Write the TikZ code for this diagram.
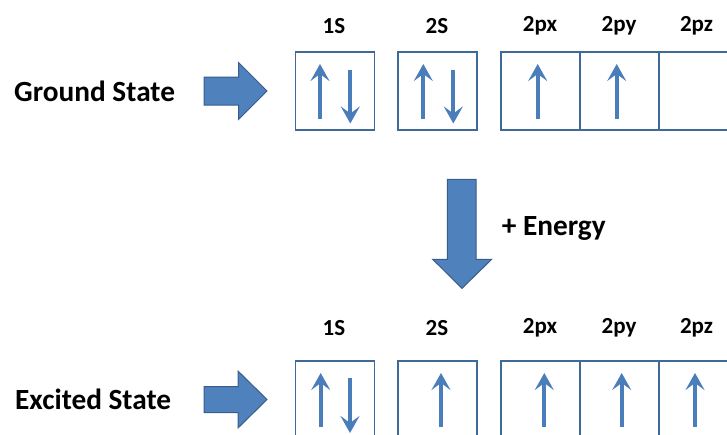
\documentclass[tikz,border=0pt]{standalone}
\usepackage{fontspec}
\setmainfont{Carlito}
\usetikzlibrary{arrows.meta}
\definecolor{elblue}{HTML}{4A7EBB}
\definecolor{boxline}{HTML}{3D6A98}
\definecolor{bafill}{HTML}{4F81BD}
\definecolor{baline}{HTML}{385D8A}
\tikzset{
  orb/.style={draw=boxline, line width=1.6pt, fill=white, minimum width=78.8pt, minimum height=78.3pt, inner sep=0pt},
  lbl/.style={font=\bfseries\fontsize{23}{25}\selectfont, inner sep=0pt},
  big/.style={font=\bfseries\fontsize{29.3}{31}\selectfont, inner sep=0pt},
  spin/.style={draw=elblue, line width=4pt, -{Stealth[length=17pt, width=19pt, inset=7pt]}},
  blockarrow/.style={fill=bafill, draw=baline, line width=1pt, line join=miter}
}
\begin{document}
\begin{tikzpicture}[x=1pt, y=-1pt]
\useasboundingbox (0,0) rectangle (727,434);
\clip (0,0) rectangle (727,434);
% ---------- Ground state ----------
\node[big, anchor=west] (gs) at (14,91) {Ground State};
\draw[blockarrow] (204,77) -- (238.5,77) -- (238.5,62.5) -- (267,91) -- (238.5,119.5) -- (238.5,105) -- (204,105) -- cycle;
\node[orb] (g1) at (335,90.85) {};
\node[orb] (g2) at (437.65,90.85) {};
\node[orb] (g3) at (540.65,90.85) {};
\node[orb] (g4) at (619.5,90.85) {};
\node[orb] (g5) at (698.35,90.85) {};
\node[lbl] (lg1) at (334,26) {1S};
\node[lbl] (lg2) at (437,26) {2S};
\node[lbl] (lg3) at (540,26) {2px};
\node[lbl] (lg4) at (619,26) {2py};
\node[lbl] (lg5) at (696.5,26) {2pz};
\draw[spin] (320,119) -- (320,64);
\draw[spin] (350.3,70) -- (350.3,123.5);
\draw[spin] (423.3,119) -- (423.3,64);
\draw[spin] (453.3,70) -- (453.3,123.5);
\draw[spin] (537.7,119) -- (537.7,64);
\draw[spin] (616.7,119) -- (616.7,64);
% ---------- Energy arrow ----------
\draw[blockarrow] (447.3,179.3) -- (476,179.3) -- (476,259.3) -- (491.7,259.3) -- (462,288.3) -- (432.7,259.3) -- (447.3,259.3) -- cycle;
\node[big, anchor=west] (en) at (501.7,228) {+ Energy};
% ---------- Excited state ----------
\node[big, anchor=west] (es) at (15,399) {Excited State};
\draw[blockarrow] (204,386.5) -- (238,386.5) -- (238,371) -- (267,399.5) -- (238,428) -- (238,412.5) -- (204,412.5) -- cycle;
\node[orb] (e1) at (335,399.85) {};
\node[orb] (e2) at (437.65,399.85) {};
\node[orb] (e3) at (540.65,399.85) {};
\node[orb] (e4) at (619.5,399.85) {};
\node[orb] (e5) at (698.35,399.85) {};
\node[lbl] (le1) at (334,328) {1S};
\node[lbl] (le2) at (437,328) {2S};
\node[lbl] (le3) at (540,328) {2px};
\node[lbl] (le4) at (619,328) {2py};
\node[lbl] (le5) at (696.5,328) {2pz};
\draw[spin] (320.7,427) -- (320.7,373);
\draw[spin] (350,378) -- (350,433);
\draw[spin] (441,427) -- (441,373);
\draw[spin] (544.3,427) -- (544.3,373);
\draw[spin] (621.7,427) -- (621.7,373);
\draw[spin] (695,427) -- (695,373);
\end{tikzpicture}
\end{document}
